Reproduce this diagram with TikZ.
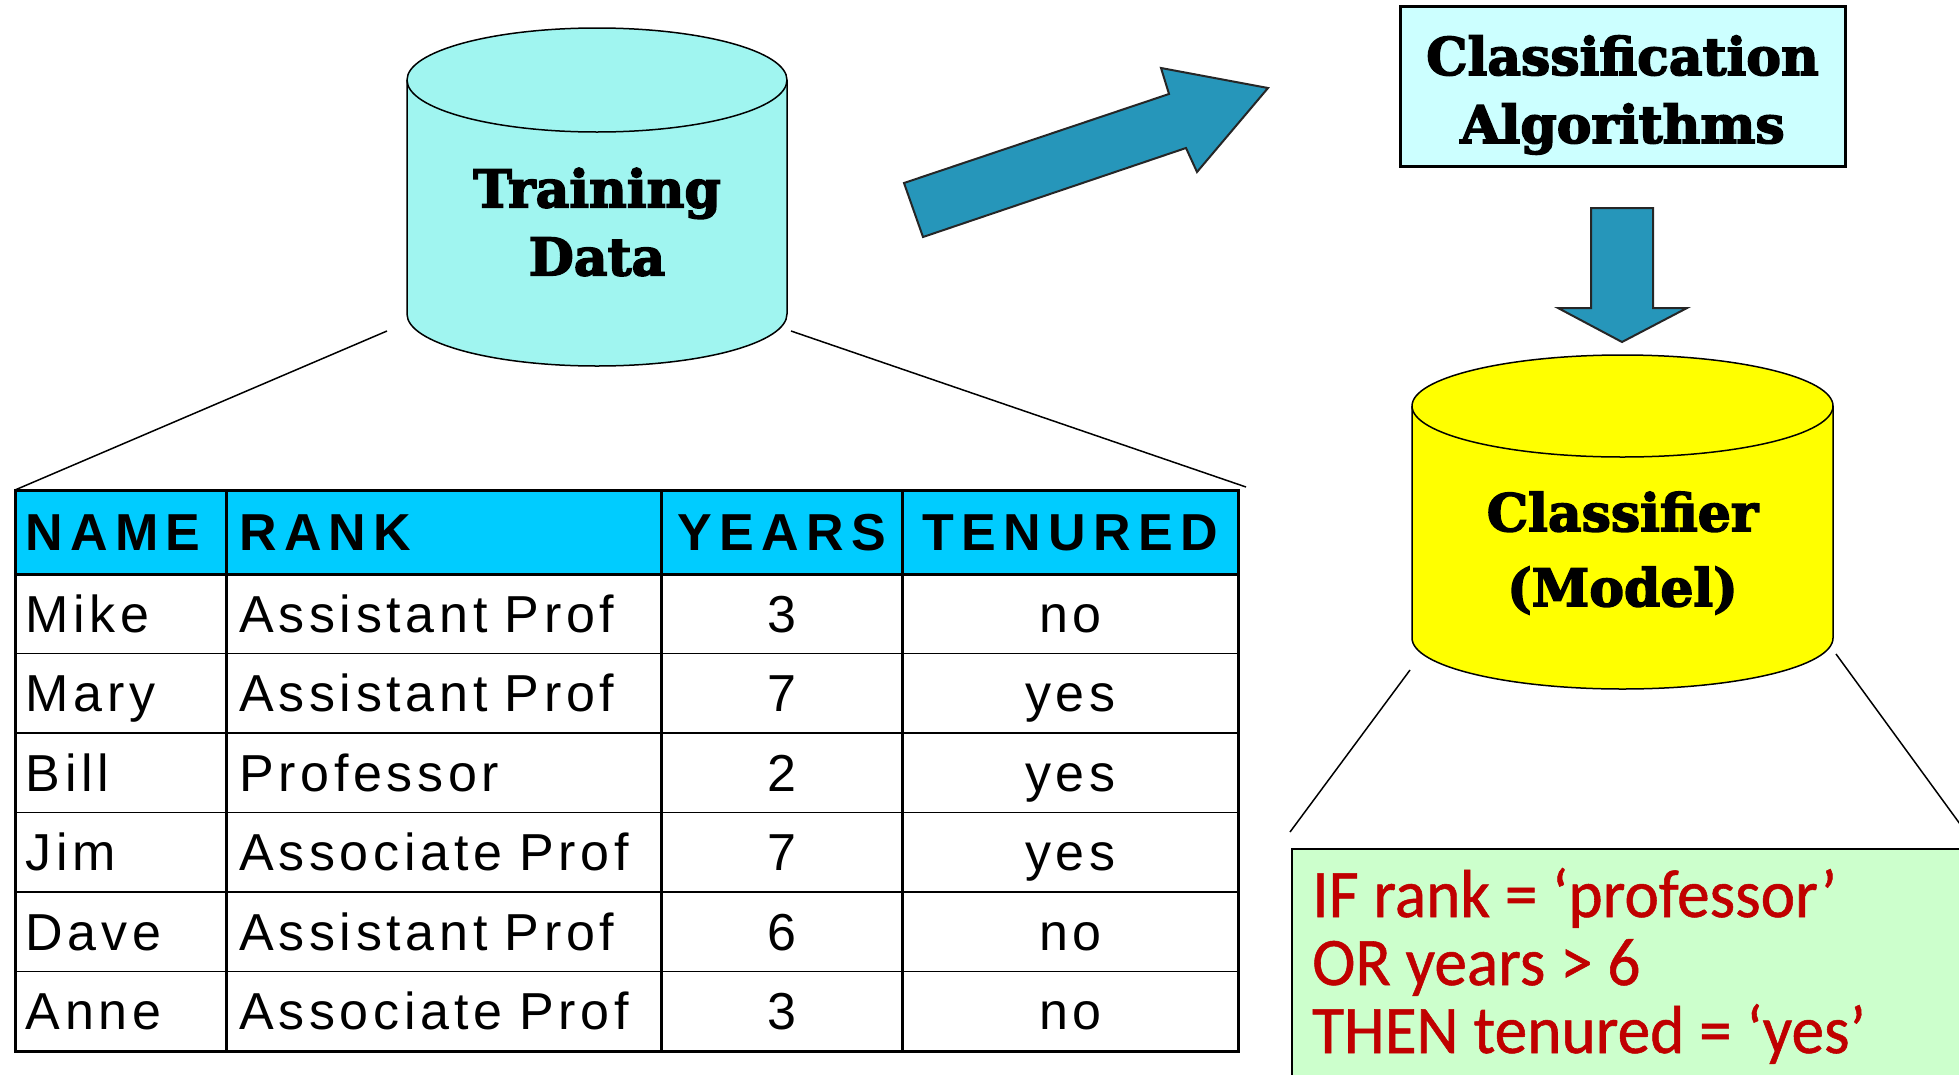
\documentclass[tikz,border=0pt]{standalone}
\usepackage{fontspec}
\usepackage{tikz}
\usetikzlibrary{positioning,calc}
\newfontfamily\slabfont[BoldFeatures={FakeBold=3}]{DejaVu Serif}
\newfontfamily\tabfont[LetterSpace=9]{Liberation Sans}
\newfontfamily\headfont[LetterSpace=14]{Liberation Sans}
\newfontfamily\rulefont[FakeStretch=0.96,FakeBold=0.8]{Carlito}
\definecolor{cylcyan}{RGB}{160,245,240}
\definecolor{cylyellow}{RGB}{255,255,0}
\definecolor{algocyan}{RGB}{204,255,255}
\definecolor{arrowblue}{RGB}{38,150,186}
\definecolor{headblue}{RGB}{0,204,255}
\definecolor{rulegreen}{RGB}{204,255,204}
\definecolor{rulered}{RGB}{192,0,0}

\begin{document}
\begin{tikzpicture}[x=1pt,y=1pt,
  slab/.style={font=\slabfont\bfseries\fontsize{52}{68}\selectfont,align=center},
  cyl/.style={draw,line width=1.5pt},
  blockarrow/.style={draw=black!85,line width=2pt,fill=arrowblue},
  cell/.style={draw,line width=1.5pt,anchor=north west,inner ysep=0pt,text height=37pt,text depth=0pt},
  headcell/.style={fill=headblue,minimum height=83pt,font=\headfont\bfseries\fontsize{52}{60}\selectfont},
  bodycell/.style={fill=white,minimum height=79.5pt,font=\tabfont\fontsize{52}{60}\selectfont},
  namecol/.style={text width=190pt,inner xsep=10pt,align=left},
  rankcol/.style={text width=409pt,inner xsep=12pt,align=left},
  yearcol/.style={text width=240pt,inner xsep=0pt,align=center},
  tencol/.style={text width=334pt,inner xsep=0pt,align=center},
  ruletext/.style={anchor=base west,inner sep=0pt,text=rulered,font=\rulefont\fontsize{68}{68}\selectfont}]
\useasboundingbox (0,0) rectangle (1959,-1074);
\clip (0,0) rectangle (1959,-1074);

% training data
\path[cyl,fill=cylcyan] (407,-80) -- (407,-314) arc[start angle=180,end angle=360,x radius=190,y radius=52]
  -- (787,-80) arc[start angle=0,end angle=180,x radius=190,y radius=52] -- cycle;
\draw[line width=1.5pt] (407,-80) arc[start angle=180,end angle=360,x radius=190,y radius=52];
\node[slab] (train) at (597,-222) {Training\\Data};

% table
\node[cell,headcell,namecol] (hName) at (15,-490) {NAME};
\node[cell,headcell,rankcol] (hRank) at (hName.north east) {RANK};
\node[cell,headcell,yearcol] (hYears) at (hRank.north east) {YEARS};
\node[cell,headcell,tencol] (hTen) at (hYears.north east) {TENURED};
\foreach \nm/\rk/\yr/\tn [count=\i] in {Mike/Assistant Prof/3/no,Mary/Assistant Prof/7/yes,
  Bill/Professor/2/yes,Jim/Associate Prof/7/yes,Dave/Assistant Prof/6/no,Anne/Associate Prof/3/no}{
  \node[cell,bodycell,namecol] (name\i) at (15,{-573-79.5*(\i-1)}) {\nm};
  \node[cell,bodycell,rankcol] (rank\i) at (name\i.north east) {\rk};
  \node[cell,bodycell,yearcol] (years\i) at (rank\i.north east) {\yr};
  \node[cell,bodycell,tencol] (ten\i) at (years\i.north east) {\tn};
}
\draw[line width=3pt] (hName.north west) rectangle (ten6.south east);
\draw[line width=3pt] (hName.south west) -- (hTen.south east);

\coordinate (trainL) at (387,-331);
\coordinate (trainR) at (791,-331);
\draw[line width=1.5pt] (trainL) -- (hName.north west);
\draw[line width=1.5pt] (trainR) -- ($(hTen.north east)+(8,3)$);

% algorithms
\draw[blockarrow] (904,-183) -- (1169,-94) -- (1161,-68) -- (1268,-88) -- (1197,-172) -- (1186,-148) -- (923,-237) -- cycle;
\node[draw,line width=3pt,fill=algocyan,minimum width=445pt,minimum height=160pt] (algo) at (1622.5,-86) {};
\node[slab] (algotext) at ([yshift=-9pt]algo.center) {Classification\\Algorithms};
\draw[blockarrow] (1591,-208) -- (1653,-208) -- (1653,-308) -- (1687,-308) -- (1622,-342) -- (1558,-308) -- (1591,-308) -- cycle;

% classifier
\path[cyl,fill=cylyellow] (1412,-406) -- (1412,-638) arc[start angle=180,end angle=360,x radius=210.5,y radius=51]
  -- (1833,-406) arc[start angle=0,end angle=180,x radius=210.5,y radius=51] -- cycle;
\draw[line width=1.5pt] (1412,-406) arc[start angle=180,end angle=360,x radius=210.5,y radius=51];
\node[slab,font=\slabfont\bfseries\fontsize{52}{75}\selectfont] (clsf) at (1622.5,-553) {Classifier\\(Model)};

% rules
\node[draw,line width=2pt,fill=rulegreen,anchor=north west,minimum width=720pt,minimum height=260pt] (rules) at (1291,-848) {};
\foreach \ln [count=\k] in {IF rank = ‘professor’,OR years > 6,THEN tenured = ‘yes’}
  \node[ruletext] (rule\k) at (1312,{-917-68*(\k-1)}) {\ln};
\coordinate (clsfL) at (1410,-670);
\coordinate (clsfR) at (1836,-654);
\coordinate (rulesL) at (1290,-832);
\coordinate (rulesR) at (1960,-824);
\draw[line width=1.5pt] (clsfL) -- (rulesL);
\draw[line width=1.5pt] (clsfR) -- (rulesR);
\end{tikzpicture}
\end{document}
